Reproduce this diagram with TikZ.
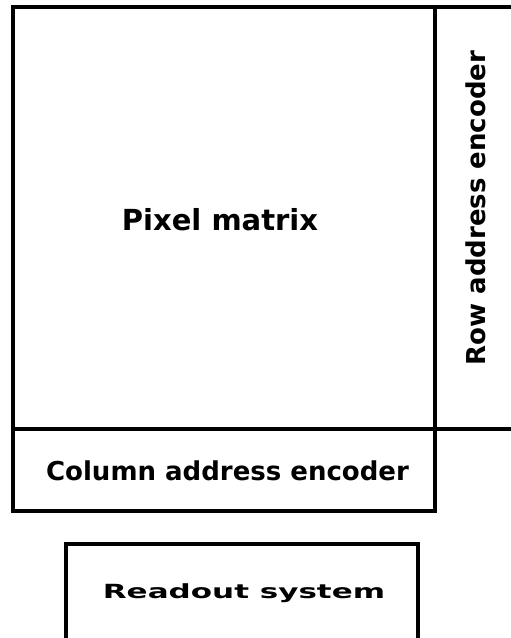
\documentclass[tikz,border=0pt]{standalone}
\usepackage{fontspec}
\setmainfont{DejaVu Sans}
\tikzset{
  block/.style={rectangle, draw, line width=3.5pt, inner sep=0pt},
  blocktext/.style={font=\bfseries, inner sep=0pt, anchor=base}
}

\begin{document}
\begin{tikzpicture}[x=1pt,y=-1pt]
      \useasboundingbox (0,0) rectangle (511,638);
      \clip (0,0) rectangle (511,638);

      \begin{scope}[every node/.style={block}]
          \node[minimum width=422pt, minimum height=422pt] (pixmat) at (224,218) {};
          \node[minimum width=110pt, minimum height=422pt] (rowenc) at (490,218) {};
          \node[minimum width=422pt, minimum height=82pt] (colenc) at (224,470) {};
          \node[minimum width=352pt, minimum height=100pt] (readout) at (242,594) {};
      \end{scope}

      \begin{scope}[every node/.style={blocktext}]
          \node[font=\bfseries\fontsize{29}{30}\selectfont] (pixlabel) at (220,230) {Pixel matrix};
          \node[font=\bfseries\fontsize{26}{28}\selectfont, rotate=90] (rowlabel) at (485,208) {Row address encoder};
          \node[font=\bfseries\fontsize{26}{28}\selectfont] (collabel) at (227.5,480) {Column address encoder};
          \node[font=\bfseries\fontsize{19.5}{21}\selectfont] (readlabel) at (244,598) {\scalebox{1.59}[1]{Readout system}};
      \end{scope}
\end{tikzpicture}
\end{document}
